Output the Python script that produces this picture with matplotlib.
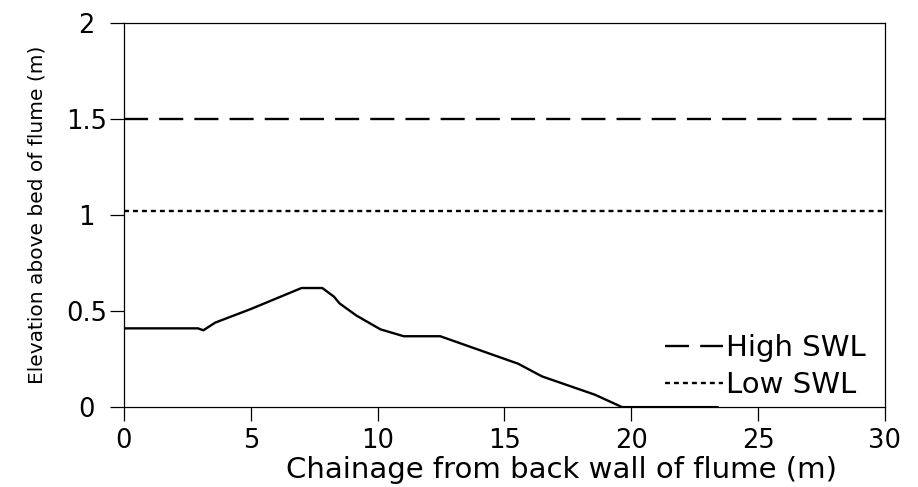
import matplotlib
matplotlib.use("Agg")
import matplotlib.pyplot as plt

# Beach / structure profile along the flume
chainage_m = [0.0, 2.92, 3.13, 3.6, 4.99, 7.0, 7.82, 8.28, 8.5, 9.16, 10.11, 11.03, 12.47, 15.54, 16.48, 18.56, 19.64, 23.4]
elevation_m = [0.41, 0.41, 0.40, 0.44, 0.51, 0.62, 0.62, 0.575, 0.54, 0.477, 0.405, 0.369, 0.369, 0.226, 0.16, 0.065, 0.0, 0.0]

# Still water levels
swl_labels = ["High SWL", "Low SWL"]
swl_levels = [1.5, 1.02]

x_ticks = [0, 5, 10, 15, 20, 25, 30]
y_ticks = [0, 0.5, 1, 1.5, 2]
y_tick_labels = ["0", "0.5", "1", "1.5", "2"]

plt.rcParams["font.family"] = ["DejaVu Sans"]

fig = plt.figure(figsize=(9.18, 4.87), dpi=100)
ax = fig.add_axes([0.135, 0.164, 0.829, 0.789])

lw = 1.7
ax.plot(chainage_m, elevation_m, color="black", linewidth=lw)
ax.axhline(swl_levels[0], color="black", linewidth=lw,
           linestyle=(0, (10.2, 4.7)), label=swl_labels[0])
ax.axhline(swl_levels[1], color="black", linewidth=lw,
           linestyle=(0, (2.1, 1.7)), label=swl_labels[1])

ax.set_xlim(0, 30)
ax.set_ylim(0, 2)
ax.set_xticks(x_ticks)
ax.set_xticklabels([str(t) for t in x_ticks])
ax.set_yticks(y_ticks)
ax.set_yticklabels(y_tick_labels)

ax.tick_params(axis="both", direction="out", length=10, width=0.9,
               labelsize=18.5, color="black")
ax.tick_params(axis="x", pad=5)
ax.tick_params(axis="y", pad=17)
for lbl in ax.get_yticklabels():
    lbl.set_horizontalalignment("center")
for sp in ax.spines.values():
    sp.set_linewidth(0.9)
    sp.set_color("black")

ax.set_xlabel("Chainage from back wall of flume (m)", fontsize=21)
ax.xaxis.set_label_coords(0.575, -0.127)
ax.set_ylabel("Elevation above bed of flume (m)", fontsize=14.5, labelpad=14)

ax.legend(loc="upper left", frameon=False, fontsize=21,
          handlelength=2.0, handletextpad=0.1, labelspacing=0.3,
          borderpad=0, borderaxespad=0, bbox_to_anchor=(0.711, 0.19))

fig.savefig("out.png", dpi=100)
